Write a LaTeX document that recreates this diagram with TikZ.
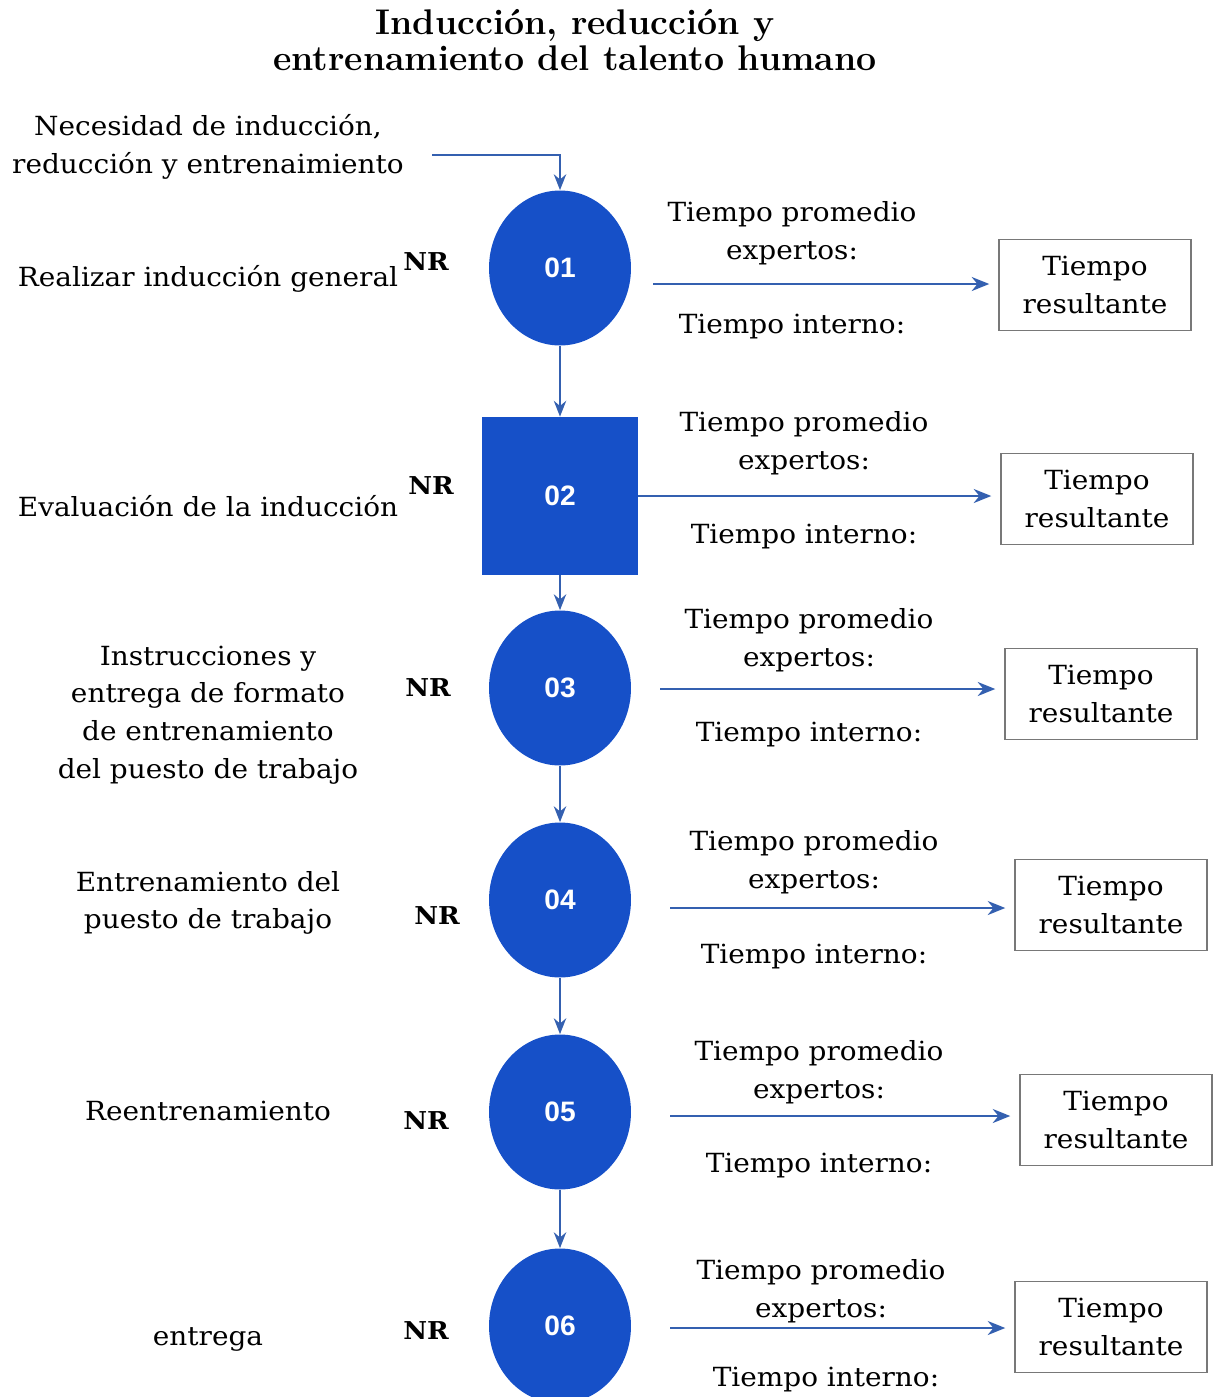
\documentclass[tikz,border=0pt]{standalone}
\usepackage{fontspec}
\newfontfamily\bodyf[FakeStretch=1.06]{DejaVu Serif}
\newfontfamily\numf{Liberation Sans}
\usetikzlibrary{arrows.meta,shapes.geometric}
\definecolor{nodeblue}{RGB}{22,80,200}
\definecolor{arrowblue}{RGB}{52,96,176}
\definecolor{boxgray}{RGB}{120,120,120}
\begin{document}
\begin{tikzpicture}[x=0.02cm,y=-0.02cm,
  txt/.style={font=\bodyf\fontsize{15}{21.5}\selectfont, align=center, inner sep=0pt},
  nrlabel/.style={font=\bodyf\bfseries\fontsize{14}{15}\selectfont, inner sep=0pt},
  stepcirc/.style={ellipse, fill=nodeblue, minimum width=2.84cm, minimum height=3.1cm, inner sep=0pt,
    text=white, font=\numf\bfseries\fontsize{16}{18}\selectfont},
  stepsq/.style={rectangle, fill=nodeblue, minimum width=3.12cm, minimum height=3.16cm, inner sep=0pt,
    text=white, font=\numf\bfseries\fontsize{16}{18}\selectfont},
  resbox/.style={rectangle, draw=boxgray, line width=1.1pt, fill=white, minimum width=3.84cm, minimum height=1.82cm,
    align=center, font=\bodyf\fontsize{15}{21.5}\selectfont},
  flow/.style={draw=arrowblue, line width=1.3pt, -{Stealth[length=9pt,width=7pt]}},
  side/.style={draw=arrowblue, line width=1.3pt, -{Stealth[length=10pt,width=8pt]}, shorten >=5pt}
]
\useasboundingbox (0,0) rectangle (1214,1397);
\clip (0,0) rectangle (1214,1397);

% title
\node[font=\rmfamily\bfseries\fontsize{20.3}{20}\selectfont, align=center, inner sep=0pt] (title) at (575,40)
  {Inducción, reducción y\\entrenamiento del talento humano};

% entry
\node[txt] (need) at (208,147) {Necesidad de inducción,\\reducción y entrenaimiento};
\coordinate (in) at (432,155);

% step nodes
\node[stepcirc] (c1) at (560,268) {01};
\node[stepsq]   (c2) at (560,496) {02};
\node[stepcirc] (c3) at (560,688) {03};
\node[stepcirc] (c4) at (560,900) {04};
\node[stepcirc] (c5) at (560,1112) {05};
\node[stepcirc] (c6) at (560,1326) {06};

% left labels
\node[txt] (l1) at (208,279) {Realizar inducción general};
\node[txt] (l2) at (208,506) {Evaluación de la inducción};
\node[txt] (l3) at (208,715) {Instrucciones y\\entrega de formato\\de entrenamiento\\del puesto de trabajo};
\node[txt] (l4) at (208,903) {Entrenamiento del\\puesto de trabajo};
\node[txt] (l5) at (208,1111) {Reentrenamiento};
\node[txt] (l6) at (208,1339) {entrega};

% NR
\node[nrlabel] (n1) at (426,262) {NR};
\node[nrlabel] (n2) at (431,486) {NR};
\node[nrlabel] (n3) at (428,688) {NR};
\node[nrlabel] (n4) at (437,916) {NR};
\node[nrlabel] (n5) at (426,1121) {NR};
\node[nrlabel] (n6) at (426,1331) {NR};

% right texts
\node[txt] (tp1) at (792,233) {Tiempo promedio\\expertos:};
\node[txt] (ti1) at (792,327) {Tiempo interno:};
\node[txt] (tp2) at (804,443) {Tiempo promedio\\expertos:};
\node[txt] (ti2) at (804,537) {Tiempo interno:};
\node[txt] (tp3) at (809,640) {Tiempo promedio\\expertos:};
\node[txt] (ti3) at (809,735) {Tiempo interno:};
\node[txt] (tp4) at (814,862) {Tiempo promedio\\expertos:};
\node[txt] (ti4) at (814,957) {Tiempo interno:};
\node[txt] (tp5) at (819,1072) {Tiempo promedio\\expertos:};
\node[txt] (ti5) at (819,1166) {Tiempo interno:};
\node[txt] (tp6) at (821,1291) {Tiempo promedio\\expertos:};
\node[txt] (ti6) at (826,1380) {Tiempo interno:};

% result boxes
\node[resbox] (b1) at (1095,285) {Tiempo\\resultante};
\node[resbox] (b2) at (1097,499) {Tiempo\\resultante};
\node[resbox] (b3) at (1101,694) {Tiempo\\resultante};
\node[resbox] (b4) at (1111,905) {Tiempo\\resultante};
\node[resbox] (b5) at (1116,1120) {Tiempo\\resultante};
\node[resbox] (b6) at (1111,1327) {Tiempo\\resultante};

% side arrow starts
\coordinate (s1) at (653,284);
\coordinate (s2) at (c2.east |- 0,496);
\coordinate (s3) at (660,689);
\coordinate (s4) at (670,908);
\coordinate (s5) at (670,1116);
\coordinate (s6) at (670,1328);

% connectors
\draw[flow] (in) -| (c1.north);
\draw[flow] (c1.south) -- (c2.north);
\draw[flow] (c2.south) -- (c3.north);
\draw[flow] (c3.south) -- (c4.north);
\draw[flow] (c4.south) -- (c5.north);
\draw[flow] (c5.south) -- (c6.north);

\draw[side] (s1) -- (s1 -| b1.west);
\draw[side] (s2) -- (s2 -| b2.west);
\draw[side] (s3) -- (s3 -| b3.west);
\draw[side] (s4) -- (s4 -| b4.west);
\draw[side] (s5) -- (s5 -| b5.west);
\draw[side] (s6) -- (s6 -| b6.west);
\end{tikzpicture}
\end{document}
